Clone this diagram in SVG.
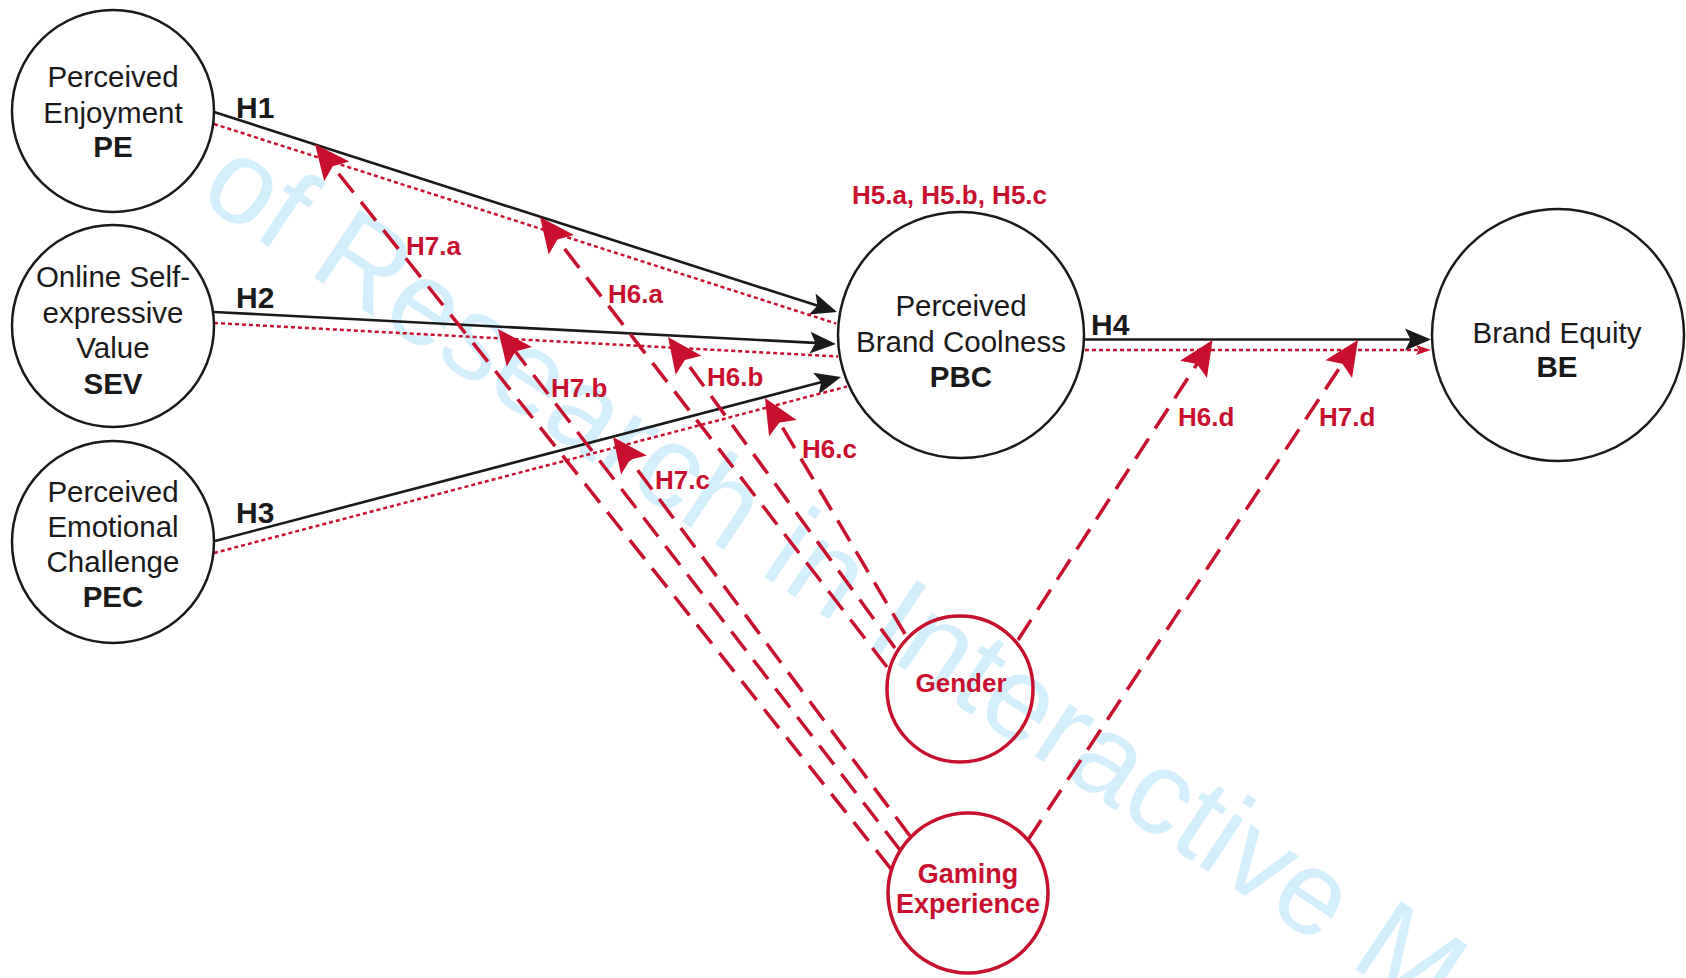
<svg xmlns="http://www.w3.org/2000/svg" width="1686" height="978" viewBox="0 0 1686 978">
<defs>
<style>
.node{fill:#fff;stroke:#1a1a1a;stroke-width:2.5}
.rnode{fill:none;stroke:#C8102E;stroke-width:3.5}
.t{font-family:"Liberation Sans",Arial,sans-serif;font-size:29.5px;fill:#1a1a1a;text-anchor:middle}
.b{font-weight:bold}
.rt{font-family:"Liberation Sans",Arial,sans-serif;font-weight:bold;font-size:26px;fill:#C8102E;text-anchor:middle}
.gx{font-size:27px}
.lbl{font-family:"Liberation Sans",Arial,sans-serif;font-weight:bold;font-size:30px;fill:#1a1a1a}
.rl{font-family:"Liberation Sans",Arial,sans-serif;font-weight:bold;font-size:26px;fill:#C8102E}
.solid{fill:none;stroke:#1a1a1a;stroke-width:2.6}
.dot{fill:none;stroke:#C8102E;stroke-width:2.5;stroke-dasharray:4 3}
.dash{fill:none;stroke:#C8102E;stroke-width:3.5;stroke-dasharray:24 12}
.wm{font-family:"Liberation Sans",Arial,sans-serif;font-size:119px;fill:#D4EFFC}
</style>
<marker id="ab" markerUnits="userSpaceOnUse" markerWidth="26" markerHeight="22" refX="15" refY="11" orient="auto" overflow="visible">
<path d="M0,0 L26,11 L0,22 L5.5,11 Z" fill="#1a1a1a"/>
</marker>
<marker id="ar" markerUnits="userSpaceOnUse" markerWidth="35" markerHeight="32" refX="25" refY="16" orient="auto" overflow="visible">
<path d="M0,0 L35,16 L0,32 L6.5,16 Z" fill="#C8102E"/>
</marker>
<marker id="as" markerUnits="userSpaceOnUse" markerWidth="15" markerHeight="10" refX="12" refY="5" orient="auto" overflow="visible">
<path d="M0,0 L15,5 L0,10 L3,5 Z" fill="#C8102E"/>
</marker>
</defs>
<rect width="1686" height="978" fill="#fff"/>
<text class="wm" transform="translate(196,199) rotate(33.6)">of Research in Interactive M</text>

<g id="connectors">
<path class="solid" d="M214,112 L826.5,308.6" marker-end="url(#ab)"/>
<path class="solid" d="M214,312 L825,343.4" marker-end="url(#ab)"/>
<path class="solid" d="M215,541 L830.4,379.7" marker-end="url(#ab)"/>
<path class="solid" d="M1084,339.5 L1420,339.5" marker-end="url(#ab)"/>
<path class="dot" d="M214,124 L836,323.5"/>
<path class="dot" d="M214,323 L838,356.5"/>
<path class="dot" d="M214,553 L847,386.5"/>
<path class="dot" d="M1085,350 L1428,350" marker-end="url(#as)"/>
<path class="dash" d="M887,667 L546.1,224.9" marker-end="url(#ar)"/>
<path class="dash" d="M895,648 L673.9,345.1" marker-end="url(#ar)"/>
<path class="dash" d="M905,634 L770.1,406.6" marker-end="url(#ar)"/>
<path class="dash" d="M1018,640 L1207.1,348.4" marker-end="url(#ar)"/>
<path class="dash" d="M891,869 L321.2,151.8" marker-end="url(#ar)"/>
<path class="dash" d="M900,850 L504.1,336.9" marker-end="url(#ar)"/>
<path class="dash" d="M910,836 L619,445" marker-end="url(#ar)"/>
<path class="dash" d="M1028,840 L1352.5,348.3" marker-end="url(#ar)"/>
<text class="lbl" x="236" y="118">H1</text>
<text class="lbl" x="236" y="308">H2</text>
<text class="lbl" x="236" y="523">H3</text>
<text class="lbl" x="1091" y="335">H4</text>
<text class="rt" x="949.5" y="204">H5.a, H5.b, H5.c</text>
<text class="rl" x="406" y="255">H7.a</text>
<text class="rl" x="608" y="303">H6.a</text>
<text class="rl" x="707" y="386">H6.b</text>
<text class="rl" x="551" y="397">H7.b</text>
<text class="rl" x="655" y="489">H7.c</text>
<text class="rl" x="802" y="458">H6.c</text>
<text class="rl" x="1178" y="426">H6.d</text>
<text class="rl" x="1319" y="426">H7.d</text>
</g>

<g id="PE">
<circle class="node" cx="113" cy="111" r="101"/>
<text class="t" x="113" y="87">Perceived</text>
<text class="t" x="113" y="122.5">Enjoyment</text>
<text class="t b" x="113" y="157">PE</text>
</g>
<g id="SEV">
<circle class="node" cx="113" cy="326" r="101"/>
<text class="t" x="113" y="287">Online Self-</text>
<text class="t" x="113" y="322.5">expressive</text>
<text class="t" x="113" y="358">Value</text>
<text class="t b" x="113" y="393.5">SEV</text>
</g>
<g id="PEC">
<circle class="node" cx="113" cy="542" r="101"/>
<text class="t" x="113" y="502">Perceived</text>
<text class="t" x="113" y="537">Emotional</text>
<text class="t" x="113" y="572">Challenge</text>
<text class="t b" x="113" y="607">PEC</text>
</g>
<g id="PBC">
<circle class="node" cx="961" cy="335" r="123"/>
<text class="t" x="961" y="316">Perceived</text>
<text class="t" x="961" y="352">Brand Coolness</text>
<text class="t b" x="961" y="387">PBC</text>
</g>
<g id="BE">
<circle class="node" cx="1558" cy="335" r="126"/>
<text class="t" x="1557" y="343">Brand Equity</text>
<text class="t b" x="1557" y="377">BE</text>
</g>
<g id="Gender">
<circle class="rnode" cx="960" cy="689" r="73"/>
<text class="rt" x="961" y="692">Gender</text>
</g>
<g id="GamingExperience">
<circle class="rnode" cx="968" cy="893" r="80"/>
<text class="rt gx" x="968" y="883">Gaming</text>
<text class="rt gx" x="968" y="913">Experience</text>
</g>
</svg>
